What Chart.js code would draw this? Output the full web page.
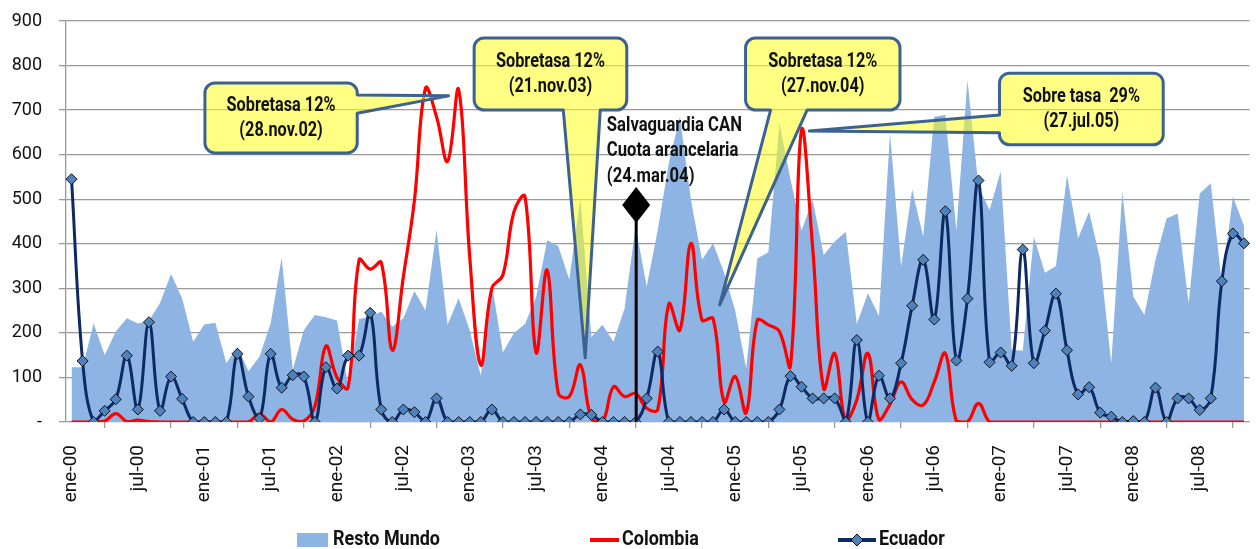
<!DOCTYPE html>
<html>
<head>
<meta charset="utf-8">
<script src="https://cdn.jsdelivr.net/npm/chart.js@4.4.1/dist/chart.umd.min.js"></script>
<style>
  html, body { margin: 0; padding: 0; background: #fff; }
  #wrap { width: 1256px; height: 549px; }
</style>
</head>
<body>
<div id="wrap"><canvas id="chart" width="1256" height="549"></canvas></div>
<script>
// meses ene-00 .. nov-08
const MESES = ['ene', 'feb', 'mar', 'abr', 'may', 'jun', 'jul', 'ago', 'sep', 'oct', 'nov', 'dic'];
const ANIOS = ['00', '01', '02', '03', '04', '05', '06', '07', '08'];
const categorias = [];
ANIOS.forEach(a => MESES.forEach(m => categorias.push(m + '-' + a)));
categorias.length = 107;

const restoMundo = [
    123, 123, 221, 150, 203, 233, 221, 227, 267, 332, 277, 180,
    219, 223, 132, 169, 114, 147, 221, 369, 117, 206, 240, 235,
    228, 85, 231, 236, 248, 214, 233, 294, 250, 431, 218, 278,
    206, 104, 310, 156, 200, 220, 280, 408, 395, 320, 503, 191,
    218, 180, 255, 439, 304, 431, 581, 685, 498, 364, 401, 335,
    250, 120, 367, 381, 670, 545, 430, 498, 375, 405, 427, 220,
    289, 238, 648, 349, 522, 416, 685, 689, 430, 767, 528, 476,
    562, 162, 160, 416, 335, 350, 554, 412, 472, 364, 132, 517,
    281, 240, 364, 457, 468, 266, 513, 536, 310, 506, 440
];

const colombia = [
    0, 0, 0, 2, 19, 1, 4, 1, 0, 0, 0, 0,
    0, 0, 0, 0, 0, 18, 0, 28, 6, 2, 35, 170,
    100, 77, 364, 343, 358, 161, 326, 497, 749, 685, 585, 746,
    371, 128, 300, 330, 472, 506, 156, 341, 65, 57, 128, 8,
    0, 79, 57, 64, 31, 28, 265, 206, 401, 229, 232, 45,
    102, 21, 228, 218, 203, 126, 655, 393, 75, 154, 0, 50,
    154, 5, 40, 90, 50, 38, 90, 154, 2, 0, 42, 0,
    0, 0, 0, 0, 0, 0, 0, 0, 0, 0, 0, 0,
    0, 0, 0, 0, 0, 0, 0, 0, 0, 0, 0
];

const ecuador = [
    545, 137, 0, 25, 51, 149, 28, 224, 25, 102, 52, 0,
    0, 0, 0, 153, 57, 8, 153, 77, 105, 102, 0, 123,
    75, 149, 149, 245, 28, 0, 28, 22, 0, 53, 0, 0,
    0, 0, 28, 0, 0, 0, 0, 0, 0, 0, 17, 16,
    0, 0, 0, 0, 53, 158, 0, 0, 0, 0, 0, 28,
    0, 0, 0, 0, 28, 103, 79, 53, 53, 53, 0, 184,
    0, 104, 53, 132, 261, 364, 230, 473, 138, 277, 542, 134,
    156, 126, 387, 132, 205, 288, 161, 62, 78, 21, 12, 0,
    2, 0, 77, 0, 53, 53, 27, 53, 316, 423, 401
];

const yTicks = [0, 100, 200, 300, 400, 500, 600, 700, 800, 900];

// anotaciones en coordenadas de datos (indice de mes, valor)
const callouts = [
    { lines: ['Sobretasa 12%', '(28.nov.02)'], box: [12.06, 761, 25.83, 604], edge: 'right', base: [734, 693], tip: [34.1, 732] },
    { lines: ['Sobretasa 12%', '(21.nov.03)'], box: [36.4, 862, 50.2, 700], edge: 'bottom', base: [44.46, 47.8], tip: [46.44, 144] },
    { lines: ['Sobretasa 12%', '(27.nov.04)'], box: [60.94, 862, 74.9, 700], edge: 'bottom', base: [63.2, 66.5], tip: [58.6, 263] },
    { lines: ['Sobre tasa  29%', '(27.jul.05)'], box: [83.9, 783, 98.7, 622], edge: 'left', base: [689, 649], tip: [66.7, 653] }
];
const salvaguardia = { idx: 51.05, value: 487, textIdx: 48.4, textValues: [664, 608, 551],
    lines: ['Salvaguardia CAN', 'Cuota arancelaria', '(24.mar.04)'] };

const FONT = "Roboto, 'Liberation Sans', sans-serif";
const COL_AREA = '#8DB4E2';
const COL_COL = '#FF0000';
const COL_ECU = '#0E2A66';
const COL_MARK = '#4F81BD';

// texto angosto (el original usa una letra condensada)
function narrowText(ctx, text, x, y, sx) {
    ctx.save();
    ctx.translate(x, y);
    ctx.scale(sx, 1);
    ctx.fillText(text, 0, 0);
    ctx.restore();
}

function calloutPath(ctx, x0, y0, x1, y1, c, tip) {
    const r = 10;
    ctx.beginPath();
    ctx.moveTo(x0 + r, y0);
    ctx.lineTo(x1 - r, y0);
    ctx.arcTo(x1, y0, x1, y0 + r, r);
    if (c.edge === 'right') {
        ctx.lineTo(x1, c.b1);
        ctx.lineTo(tip[0], tip[1]);
        ctx.lineTo(x1, c.b2);
    }
    ctx.lineTo(x1, y1 - r);
    ctx.arcTo(x1, y1, x1 - r, y1, r);
    if (c.edge === 'bottom') {
        ctx.lineTo(c.b2, y1);
        ctx.lineTo(tip[0], tip[1]);
        ctx.lineTo(c.b1, y1);
    }
    ctx.lineTo(x0 + r, y1);
    ctx.arcTo(x0, y1, x0, y1 - r, r);
    if (c.edge === 'left') {
        ctx.lineTo(x0, c.b2);
        ctx.lineTo(tip[0], tip[1]);
        ctx.lineTo(x0, c.b1);
    }
    ctx.lineTo(x0, y0 + r);
    ctx.arcTo(x0, y0, x0 + r, y0, r);
    ctx.closePath();
}

const anotaciones = {
    id: 'anotaciones',
    afterDatasetsDraw(chart) {
        const ctx = chart.ctx;
        const xs = chart.scales.x, ys = chart.scales.y;
        const px = i => xs.getPixelForValue(i);
        const py = v => ys.getPixelForValue(v);
        ctx.save();

        // salvaguardia CAN
        const sx = px(salvaguardia.idx), sy = py(salvaguardia.value);
        ctx.strokeStyle = '#000';
        ctx.lineWidth = 3;
        ctx.beginPath();
        ctx.moveTo(sx, sy);
        ctx.lineTo(sx, py(0));
        ctx.stroke();
        ctx.fillStyle = '#000';
        ctx.beginPath();
        ctx.moveTo(sx, sy - 18);
        ctx.lineTo(sx + 14, sy);
        ctx.lineTo(sx, sy + 18);
        ctx.lineTo(sx - 14, sy);
        ctx.closePath();
        ctx.fill();
        ctx.fillStyle = '#111';
        ctx.font = 'bold 21px ' + FONT;
        ctx.textAlign = 'left';
        ctx.textBaseline = 'middle';
        const sScale = 135 / ctx.measureText('Salvaguardia CAN').width;
        salvaguardia.lines.forEach((t, k) => narrowText(ctx, t, px(salvaguardia.textIdx), py(salvaguardia.textValues[k]), sScale));

        // globos
        ctx.font = 'bold 21px ' + FONT;
        const cScale = 109 / ctx.measureText('Sobretasa 12%').width;
        callouts.forEach(c => {
            const x0 = px(c.box[0]), y0 = py(c.box[1]), x1 = px(c.box[2]), y1 = py(c.box[3]);
            const tip = [px(c.tip[0]), py(c.tip[1])];
            const g = { edge: c.edge };
            if (c.edge === 'bottom') { g.b1 = px(c.base[0]); g.b2 = px(c.base[1]); }
            else { g.b1 = py(c.base[0]); g.b2 = py(c.base[1]); }
            calloutPath(ctx, x0, y0, x1, y1, g, tip);
            ctx.fillStyle = 'rgba(255, 255, 30, 0.55)';
            ctx.fill();
            ctx.strokeStyle = '#3D6191';
            ctx.lineWidth = 3;
            ctx.lineJoin = 'round';
            ctx.stroke();
            ctx.fillStyle = '#111';
            ctx.textAlign = 'center';
            ctx.textBaseline = 'middle';
            const cx = (x0 + x1) / 2, cy = (y0 + y1) / 2;
            narrowText(ctx, c.lines[0], cx, cy - 12, cScale);
            narrowText(ctx, c.lines[1], cx, cy + 13, cScale);
        });
        ctx.restore();
    },
    afterDraw(chart) {
        // leyenda
        const ctx = chart.ctx;
        const y = 540;
        ctx.save();
        ctx.font = 'bold 20px ' + FONT;
        ctx.textBaseline = 'middle';
        ctx.textAlign = 'left';
        const lScale = 107 / ctx.measureText('Resto Mundo').width;
        ctx.fillStyle = COL_AREA;
        ctx.fillRect(297, 533, 31, 14);
        ctx.fillStyle = '#111';
        narrowText(ctx, 'Resto Mundo', 333, y, lScale);

        ctx.strokeStyle = COL_COL;
        ctx.lineWidth = 4;
        ctx.beginPath();
        ctx.moveTo(590, y);
        ctx.lineTo(619, y);
        ctx.stroke();
        narrowText(ctx, 'Colombia', 622, y, lScale);

        ctx.strokeStyle = COL_ECU;
        ctx.beginPath();
        ctx.moveTo(838, y);
        ctx.lineTo(876, y);
        ctx.stroke();
        ctx.fillStyle = COL_MARK;
        ctx.strokeStyle = '#111';
        ctx.lineWidth = 1;
        ctx.beginPath();
        ctx.moveTo(857, y - 6);
        ctx.lineTo(863, y);
        ctx.lineTo(857, y + 6);
        ctx.lineTo(851, y);
        ctx.closePath();
        ctx.fill();
        ctx.stroke();
        ctx.fillStyle = '#111';
        narrowText(ctx, 'Ecuador', 879, y, lScale);
        ctx.restore();
    }
};

new Chart(document.getElementById('chart'), {
    type: 'line',
    data: {
        labels: categorias,
        datasets: [
            {
                label: 'Resto Mundo',
                data: restoMundo,
                fill: 'origin',
                backgroundColor: COL_AREA,
                borderWidth: 0,
                pointRadius: 0,
                tension: 0,
                order: 3
            },
            {
                label: 'Colombia',
                data: colombia,
                borderColor: COL_COL,
                borderWidth: 3.2,
                pointRadius: 0,
                tension: 0.4,
                fill: false,
                order: 2
            },
            {
                label: 'Ecuador',
                data: ecuador,
                borderColor: COL_ECU,
                borderWidth: 3,
                tension: 0.4,
                fill: false,
                pointStyle: 'rectRot',
                pointRadius: 5.5,
                pointBackgroundColor: COL_MARK,
                pointBorderColor: '#111',
                pointBorderWidth: 1,
                order: 1
            }
        ]
    },
    options: {
        responsive: false,
        animation: false,
        layout: { padding: { top: 21, left: 0, right: 0, bottom: 0 } },
        plugins: {
            legend: { display: false },
            tooltip: { enabled: false }
        },
        scales: {
            x: {
                offset: true,
                grid: { offset: true, drawOnChartArea: false, drawTicks: true, tickLength: 6, color: '#999', lineWidth: 1.3 },
                border: { display: false },
                ticks: {
                    autoSkip: false,
                    minRotation: 90,
                    maxRotation: 90,
                    padding: 17,
                    color: '#111',
                    font: { family: FONT, size: 19 },
                    callback: function (value, index) {
                        return index % 6 === 0 ? this.getLabelForValue(value) : null;
                    }
                },
                afterFit: s => { s.height = 127; }
            },
            y: {
                min: 0,
                max: 900,
                afterBuildTicks: s => { s.ticks = yTicks.map(v => ({ value: v })); },
                grid: { color: '#999', lineWidth: 1.3, tickLength: 7 },
                border: { color: '#999', width: 1.3 },
                ticks: {
                    padding: 17,
                    color: '#111',
                    font: { family: FONT, size: 18 },
                    callback: v => v === 0 ? '-' : v
                },
                afterFit: s => {
                    s.width = 66;
                    s.paddingTop = 0;
                    s.paddingBottom = 0;
                }
            }
        }
    },
    plugins: [anotaciones]
});
</script>
</body>
</html>
